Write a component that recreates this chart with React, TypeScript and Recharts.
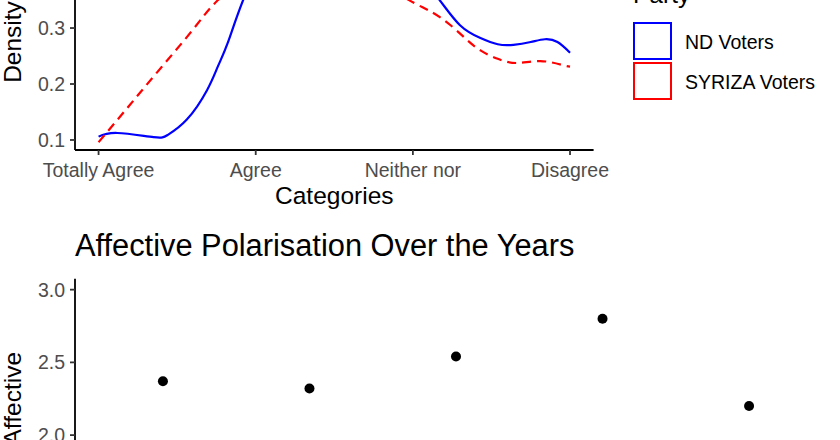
import { LineChart, Line, XAxis, YAxis, ScatterChart, Scatter } from 'recharts'

const categories = ['Totally Agree', 'Agree', 'Neither nor', 'Disagree']
const categoryTicks = [1, 2, 3, 4]
const densityTicks = [0.1, 0.2, 0.3, 0.4]

// ND voters density (peak is cropped, estimated)
const ndX = [1.0, 1.12, 1.35, 1.44, 1.56, 1.69, 1.76, 1.82, 1.92, 2.1, 2.4, 2.7, 3.0, 3.17, 3.3, 3.43, 3.54, 3.64, 3.75, 3.84, 3.92, 4.0]
const ndDensity = [0.106, 0.1125, 0.105, 0.109, 0.136, 0.189, 0.232, 0.272, 0.35, 0.43, 0.45, 0.435, 0.395, 0.35, 0.305, 0.282, 0.271, 0.27, 0.275, 0.28, 0.275, 0.256]

// SYRIZA voters density
const syrizaX = [1.0, 1.2, 1.4, 1.6, 1.76, 2.0, 2.3, 2.6, 2.85, 3.0, 3.13, 3.24, 3.34, 3.43, 3.54, 3.66, 3.81, 3.95, 4.0]
const syrizaDensity = [0.096, 0.163, 0.23, 0.297, 0.35, 0.395, 0.412, 0.4, 0.37, 0.346, 0.327, 0.305, 0.28, 0.26, 0.245, 0.2375, 0.241, 0.234, 0.231]

const waves = [1, 2, 3, 4, 5]
const affective = [2.37, 2.32, 2.54, 2.8, 2.2]
const affectiveTicks = [1.5, 2.0, 2.5, 3.0]

const ndData = ndX.map((x, i) => ({ x, y: ndDensity[i] }))
const syrizaData = syrizaX.map((x, i) => ({ x, y: syrizaDensity[i] }))
const pointData = waves.map((w, i) => ({ wave: w, value: affective[i] }))

const FONT = '"Liberation Sans", Arial, Helvetica, sans-serif'
const tickStyle = { fontSize: 19.5, fill: '#4d4d4d', fontFamily: FONT }
const axisLine = { stroke: '#000', strokeWidth: 1.8 }
const tickLine = { stroke: '#333', strokeWidth: 1.8 }

const yTitle = (text: string) => (props: any) => {
  const vb = props.viewBox || {}
  const cy = vb.y + vb.height / 2
  return (
    <text
      x={21}
      y={cy}
      transform={`rotate(-90, 21, ${cy})`}
      textAnchor="middle"
      fontSize={24.5}
      fontFamily={FONT}
      fill="#000"
    >
      {text}
    </text>
  )
}

const xTitle = (text: string) => (props: any) => {
  const vb = props.viewBox || {}
  return (
    <text x={vb.x + vb.width / 2} y={vb.y + 54} textAnchor="middle" fontSize={24.5} fontFamily={FONT} fill="#000">
      {text}
    </text>
  )
}

const dot = (p: any) => <circle cx={p.cx} cy={p.cy} r={5} fill="#000" />

export default function App() {
  return (
    <div style={{ position: 'fixed', left: 0, top: 0, width: 840, height: 440, overflow: 'hidden', background: '#fff', fontFamily: FONT }}>
      <div style={{ position: 'absolute', left: 0, top: -80 }}>
        <LineChart width={640} height={300} margin={{ top: 14, right: 46.4, bottom: 0, left: 0 }}>
          <XAxis
            type="number"
            dataKey="x"
            domain={[0.85, 4.15]}
            ticks={categoryTicks}
            interval={0}
            allowDataOverflow
            tickFormatter={(v: number) => categories[v - 1]}
            tick={tickStyle}
            tickSize={5}
            tickMargin={8}
            axisLine={axisLine}
            tickLine={tickLine}
            height={70}
            label={xTitle('Categories')}
          />
          <YAxis
            type="number"
            domain={[0.0821, 0.468]}
            ticks={densityTicks}
            interval={0}
            allowDataOverflow
            tickFormatter={(v: number) => v.toFixed(1)}
            tick={tickStyle}
            tickSize={5}
            tickMargin={5}
            axisLine={axisLine}
            tickLine={tickLine}
            width={75}
            label={yTitle('Density')}
          />
          <Line data={ndData} dataKey="y" type="natural" stroke="#0000ff" strokeWidth={2.2} dot={false} isAnimationActive={false} />
          <Line data={syrizaData} dataKey="y" type="natural" stroke="#ff0000" strokeWidth={2.2} strokeDasharray="9 6" dot={false} isAnimationActive={false} />
        </LineChart>
      </div>

      <svg style={{ position: 'absolute', left: 620, top: -20 }} width={220} height={130}>
        <text x={13} y={23} fontSize={24.5} fontFamily={FONT} fill="#000">Party</text>
        <rect x={14} y={43} width={37} height={36} fill="#fff" stroke="#0000ff" strokeWidth={2} />
        <rect x={14} y={83} width={37} height={36} fill="#fff" stroke="#ff0000" strokeWidth={2} />
        <text x={65} y={69} fontSize={19.5} fontFamily={FONT} fill="#000">ND Voters</text>
        <text x={65} y={109} fontSize={19.5} fontFamily={FONT} fill="#000">SYRIZA Voters</text>
      </svg>

      <div style={{ position: 'absolute', left: 75, top: 231, fontSize: 30.8, lineHeight: '30.8px', color: '#000', whiteSpace: 'nowrap' }}>
        Affective Polarisation Over the Years
      </div>

      <div style={{ position: 'absolute', left: 0, top: 260 }}>
        <ScatterChart width={840} height={308.75} margin={{ top: 18.75, right: 3, bottom: 0, left: 0 }}>
          <XAxis
            type="number"
            dataKey="wave"
            domain={[0.4, 5.6]}
            ticks={waves}
            interval={0}
            tick={tickStyle}
            tickSize={5}
            tickMargin={8}
            axisLine={axisLine}
            tickLine={tickLine}
            height={50}
          />
          <YAxis
            type="number"
            dataKey="value"
            domain={[1.425, 3.075]}
            ticks={affectiveTicks}
            interval={0}
            allowDataOverflow
            tickFormatter={(v: number) => v.toFixed(1)}
            tick={tickStyle}
            tickSize={5}
            tickMargin={5}
            axisLine={axisLine}
            tickLine={tickLine}
            width={75}
            label={yTitle('Affective')}
          />
          <Scatter data={pointData} fill="#000" shape={dot} isAnimationActive={false} />
        </ScatterChart>
      </div>
    </div>
  )
}
